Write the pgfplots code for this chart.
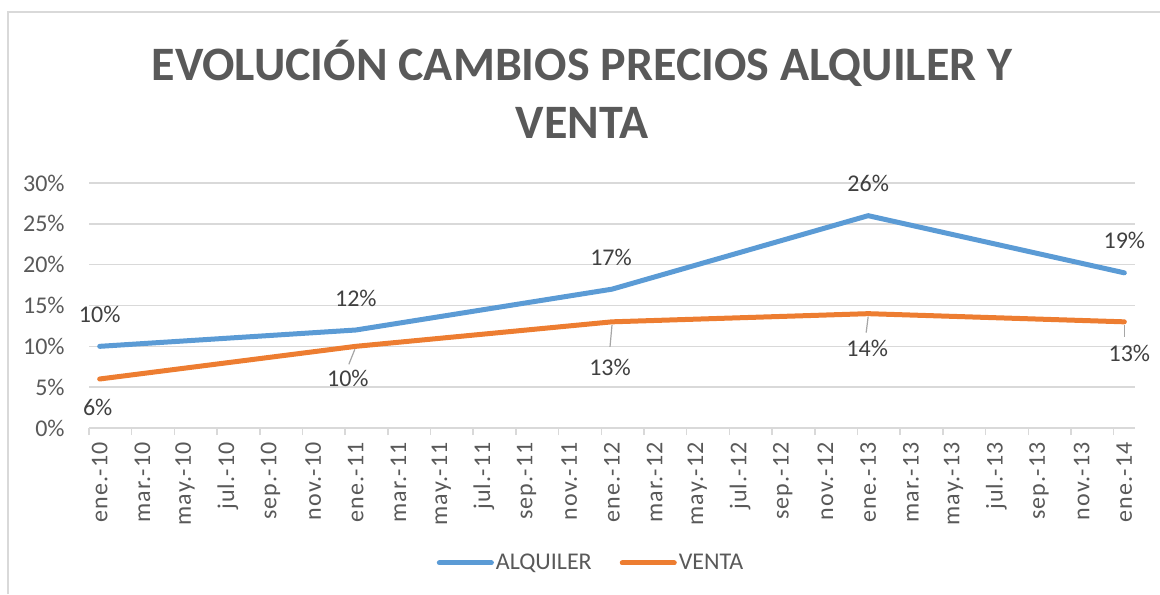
\documentclass[border=0pt]{standalone}
\usepackage{pgfplots}
\pgfplotsset{compat=1.18}
\usepackage{pgfplotstable}
\usepackage{fontspec}
\setmainfont{Carlito}
\newfontfamily\spaced[LetterSpace=5]{Carlito}
\definecolor{alq}{HTML}{5B9BD5}
\definecolor{ven}{HTML}{ED7D31}
\definecolor{txt}{HTML}{595959}
\definecolor{lbl}{HTML}{404040}
\definecolor{grd}{HTML}{D9D9D9}
\definecolor{ldr}{HTML}{A6A6A6}

\pgfplotstableread{
x y dx dy
0 10 0 16
12 12 0 16
24 17 -0.5 16
36 26 0 16
48 19 0 16
}\alquiler
\pgfplotstableread{
x y dx dy
0 6 -1 -14
12 10 -4 -16
24 13 -1 -23
36 14 -0.5 -17.5
48 13 2.5 -16
}\venta

\begin{document}
\begin{tikzpicture}
\path[use as bounding box] (0,0) rectangle (580pt,297pt);
\draw[grd, line width=1pt] (3.75pt,0) -- (3.75pt,290.75pt) -- (580pt,290.75pt);
\node[font=\fontsize{24}{29}\selectfont\bfseries, text=txt, align=center] at (291pt,252.5pt) {EVOLUCIÓN CAMBIOS PRECIOS ALQUILER Y\\VENTA};
\begin{axis}[
  at={(44.5pt,83pt)}, anchor=south west,
  scale only axis, width=523pt, height=122.5pt,
  xmin=-0.5, xmax=48.5, ymin=0, ymax=30,
  /pgf/number format/assume math mode=true,
  axis x line*=bottom, axis y line*=left,
  x axis line style={draw=grd, line width=0.75pt, -},
  y axis line style={draw=none, -},
  ytick={0,5,...,30},
  yticklabel={\pgfmathprintnumber{\tick}\%},
  xtick={0,2,...,48},
  xticklabels={ene.-10,mar.-10,may.-10,jul.-10,sep.-10,nov.-10,
    ene.-11,mar.-11,may.-11,jul.-11,sep.-11,nov.-11,
    ene.-12,mar.-12,may.-12,jul.-12,sep.-12,nov.-12,
    ene.-13,mar.-13,may.-13,jul.-13,sep.-13,nov.-13,ene.-14},
  minor xtick={-0.5,1.5,...,47.5},
  major tick length=0pt,
  minor tick length=3.5pt,
  tick align=outside,
  minor tick style={draw=grd, line width=0.75pt},
  ymajorgrids, major grid style={draw=grd, line width=0.75pt},
  tick label style={font=\fontsize{12}{14}\selectfont, text=txt, inner sep=0pt},
  xticklabel shift=7pt,
  yticklabel shift=12pt,
  xticklabel style={rotate=90, anchor=east, font=\spaced\fontsize{12}{14}\selectfont},
  yticklabel style={anchor=east},
  legend style={at={(0.48,-0.551)}, anchor=center, draw=none, fill=none,
    legend columns=2, font=\fontsize{12}{14}\selectfont, text=txt,
    /tikz/every even column/.append style={column sep=13pt},
    nodes={inner sep=1pt}},
  legend image code/.code={\draw[#1, line width=2.5pt, line cap=round] (0pt,0pt) -- (26pt,0pt);},
  nodes near coords={\pgfmathprintnumber{\pgfplotspointmeta}\%},
  nodes near coords align=center,
  visualization depends on={\thisrow{dx} \as \dx},
  visualization depends on={\thisrow{dy} \as \dy},
  every node near coord/.append style={anchor=center, xshift=\dx pt, yshift=\dy pt,
    text=lbl, font=\fontsize{12}{14}\selectfont, inner sep=0pt},
]
\addplot[alq, line width=2.5pt, line join=round, line cap=round, mark=none] table[x=x,y=y] {\alquiler};
\addlegendentry{ALQUILER}
\addplot[ven, line width=2.5pt, line join=round, line cap=round, mark=none] table[x=x,y=y] {\venta};
\addlegendentry{VENTA}
\draw[ldr, line width=0.6pt] ([shift={(-0.5pt,-1.5pt)}]axis cs:12,10) -- ([shift={(-3.5pt,-9pt)}]axis cs:12,10);
\draw[ldr, line width=0.6pt] ([shift={(0pt,-1.5pt)}]axis cs:24,13) -- ([shift={(-1pt,-12.5pt)}]axis cs:24,13);
\draw[ldr, line width=0.6pt] ([shift={(0pt,-1.5pt)}]axis cs:36,14) -- ([shift={(-1pt,-9.5pt)}]axis cs:36,14);
\draw[ldr, line width=0.6pt] ([shift={(0pt,-1.5pt)}]axis cs:48,13) -- ([shift={(0pt,-7.5pt)}]axis cs:48,13);
\end{axis}
\end{tikzpicture}
\end{document}
